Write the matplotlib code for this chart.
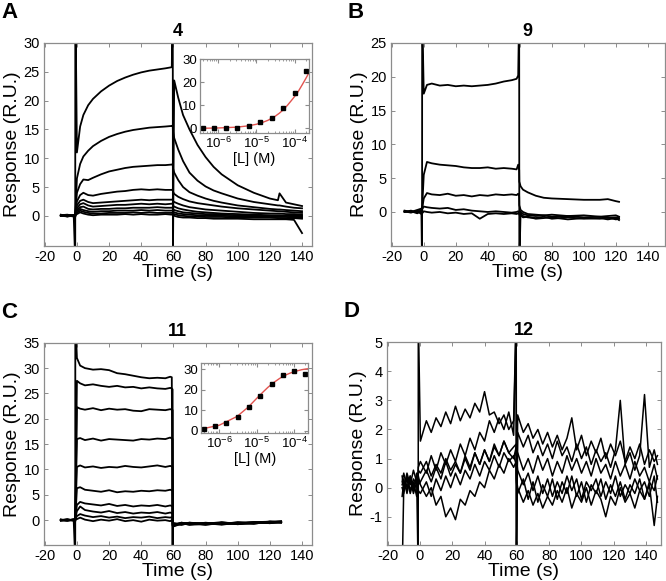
import matplotlib
matplotlib.use("Agg")
import matplotlib.pyplot as plt

plt.rcParams['font.family'] = ['Liberation Sans', 'DejaVu Sans']
plt.rcParams['mathtext.fontset'] = 'custom'
plt.rcParams['mathtext.rm'] = 'Liberation Sans'
plt.rcParams['axes.unicode_minus'] = False

# ---- panel A : compound 4 (10 concentrations); injection spikes kept in a1 only ----
tA = [-10, -6, -2, -1.05, -1, 0, 2, 4, 7, 10, 15, 20, 25, 30, 35, 40, 45, 50, 55, 59,
      59.6, 59.7, 60.5, 63, 66, 70, 75, 80, 85, 90, 100, 110, 120, 125, 126, 130, 135, 140]
a1 = [0.2, -0.1, 0.1, -8, 40, 11, 15.5, 17.5, 19.2, 20.3, 21.6, 22.6, 23.4, 24.0, 24.5, 24.9, 25.2, 25.4, 25.6, 25.8,
      40, -8, 23.5, 20.5, 17.5, 15.0, 12.3, 10.2, 8.5, 7.2, 5.3, 4.0, 3.0, 2.7, 3.9, 2.3, 2.0, 1.7]
a2 = [0.1, 0.2, 0, 0.1, 0.3, 6.5, 9.0, 10.3, 11.3, 12.1, 13.0, 13.7, 14.2, 14.6, 14.9, 15.1, 15.3, 15.4, 15.5, 15.6,
      15.7, 14.8, 13.5, 11.5, 9.5, 7.5, 6.1, 5.1, 4.4, 3.9, 3.0, 2.4, 2.0, 1.8, 1.8, 1.6, 1.4, 1.3]
a3 = [0, 0.1, -0.1, 0.0, 0.4, 4.0, 5.5, 6.3, 6.2, 6.6, 7.2, 7.7, 8.0, 8.3, 8.5, 8.6, 8.7, 8.8, 8.8, 8.9,
      9.0, 8.3, 7.5, 6.2, 5.0, 4.1, 3.5, 3.0, 2.6, 2.3, 1.8, 1.5, 1.2, 1.1, 1.1, 1.0, 0.9, 0.8]
a4 = [0.1, 0, 0.1, 0.2, 0.5, 2.5, 3.6, 4.0, 3.6, 3.5, 3.8, 4.0, 4.2, 4.3, 4.5, 4.6, 4.5, 4.6, 4.5, 4.5,
      4.6, 4.2, 3.8, 3.3, 2.9, 2.5, 2.2, 2.0, 1.8, 1.6, 1.3, 1.1, 0.9, 0.8, 0.8, 0.7, 0.6, 0.5]
a5 = [0, 0.1, 0, -0.2, 0.3, 1.8, 2.6, 2.8, 2.4, 2.2, 2.3, 2.4, 2.5, 2.6, 2.7, 2.8, 2.7, 2.8, 2.8, 2.8,
      2.9, 2.6, 2.4, 2.1, 1.8, 1.5, 1.3, 1.1, 1.0, 0.9, 0.7, 0.5, 0.4, 0.4, 0.4, 0.3, 0.3, 0.2]
a6 = [0.1, -0.1, 0.1, 0.0, 0.2, 1.3, 2.0, 2.2, 1.8, 1.6, 1.7, 1.8, 1.9, 1.9, 2.0, 2.1, 2.0, 2.1, 2.0, 2.1,
      2.2, 1.8, 1.6, 1.3, 1.1, 0.9, 0.7, 0.6, 0.5, 0.4, 0.3, 0.2, 0.1, 0.1, 0.1, 0.0, 0.1, 0.0]
a7 = [0, 0, 0.1, -0.1, 0.2, 1.0, 1.5, 1.6, 1.2, 1.1, 1.2, 1.2, 1.3, 1.3, 1.4, 1.4, 1.4, 1.5, 1.4, 1.4,
      1.5, 1.2, 1.0, 0.8, 0.6, 0.5, 0.4, 0.3, 0.3, 0.2, 0.1, 0.0, 0.0, -0.1, -0.1, 0.0, -0.1, -0.2]
a8 = [0.1, 0, -0.1, 0.1, 0.3, 0.8, 1.2, 1.0, 0.8, 0.7, 0.8, 0.8, 0.9, 0.9, 0.9, 1.0, 0.9, 1.0, 0.9, 0.9,
      1.0, 0.8, 0.6, 0.4, 0.3, 0.2, 0.1, 0.1, 0.0, 0.0, -0.1, -0.1, -0.2, -0.2, -0.2, -0.2, -0.3, -0.3]
a9 = [0, 0.1, 0, -0.2, 0.2, 0.5, 0.9, 0.7, 0.5, 0.4, 0.4, 0.5, 0.5, 0.5, 0.6, 0.5, 0.6, 0.5, 0.5, 0.5,
      0.6, 0.4, 0.3, 0.1, 0.0, -0.1, -0.1, -0.2, -0.2, -0.2, -0.3, -0.3, -0.3, -0.4, -0.4, -0.4, -0.4, -0.5]
a10 = [0, -0.1, 0, 0.1, 0.1, 0.3, 0.6, 0.4, 0.2, 0.1, 0.2, 0.2, 0.2, 0.3, 0.2, 0.3, 0.2, 0.2, 0.3, 0.2,
       0.3, 0.1, 0.0, -0.2, -0.3, -0.3, -0.4, -0.4, -0.5, -0.5, -0.5, -0.6, -0.6, -0.6, -0.6, -0.6, -0.7, -3.0]

# ---- panel B : compound 9 ----
tB = [-12, -8, -4, -1.5, -1.05, -1, 0, 2, 5, 10, 15, 20, 25, 30, 35, 40, 45, 50, 55, 58,
      59, 59.6, 59.7, 60.5, 62, 65, 70, 75, 80, 90, 100, 110, 115, 120, 122]
b1 = [0.2, 0, 0.3, 0.5, -8, 30, 17.5, 18.8, 19.0, 18.7, 18.8, 18.6, 18.7, 18.6, 18.7, 18.8, 19.0, 19.3, 19.5, 19.7,
      20.2, 30, -8, 0.0, -0.3, -0.5, -0.6, -0.5, -0.7, -0.6, -0.8, -0.7, -0.9, -0.8, -0.9]
b2 = [0, 0.2, -0.1, 0.3, 0.1, 0.6, 5.5, 7.4, 7.2, 7.0, 6.9, 6.8, 6.6, 6.5, 6.5, 6.6, 6.4, 6.5, 6.4, 6.3,
      7.0, 6.2, 4.5, 3.8, 3.3, 2.9, 2.4, 2.1, 2.0, 1.9, 1.8, 1.8, 1.9, 1.6, 1.5]
b3 = [0.1, -0.1, 0.2, 0, -0.4, 0.5, 2.0, 2.8, 2.6, 2.5, 2.7, 2.4, 2.5, 2.3, 2.5, 2.4, 2.6, 2.5, 2.6, 2.5,
      2.7, 2.3, 1.0, 0.3, 0.0, -0.3, -0.4, -0.5, -0.4, -0.6, -0.5, -0.7, -0.6, -0.5, -0.7]
b4 = [0, 0.1, -0.2, 0.2, -0.6, 0.4, 0.8, 0.7, 0.6, 0.5, 0.6, 0.3, 0.4, 0.2, 0.1, 0.0, 0.1, 0.0, -0.1, 0.0,
      0.1, -0.1, -0.2, -0.3, -0.6, -0.8, -0.9, -0.7, -1.0, -0.8, -1.0, -0.9, -1.1, -0.9, -1.2]
b5 = [0.1, 0, 0.1, -0.3, 0.3, -0.2, 0.1, 0.0, -0.1, 0.0, -0.2, -0.1, -0.3, -0.2, -1.0, -0.3, -0.2, -0.3, -0.2, -0.3,
      -0.2, 0.0, -0.4, -0.5, -0.8, -0.7, -1.0, -0.9, -0.8, -1.1, -0.9, -1.0, -0.8, -1.1, -1.0]

# ---- panel C : compound 11 ----
tC = [-10, -6, -2, -1.05, -1, 0, 2, 5, 10, 15, 20, 25, 30, 35, 40, 45, 50, 55, 58, 59,
      59.5, 59.6, 60.5, 65, 70, 80, 90, 100, 110, 120, 127]
c1 = [0, 0.2, -0.1, -8, 40, 32, 30.5, 30.0, 29.7, 29.8, 29.6, 29.0, 28.8, 28.5, 28.2, 28.0, 28.1, 28.0, 28.3, 28.2,
      -8, -1.0, -0.8, -0.6, -0.9, -0.8, -0.5, -0.6, -0.4, -0.3, -0.2]
c2 = [0.1, -0.1, 0.2, 0.1, 0.4, 27.5, 27.0, 26.6, 26.8, 26.5, 26.3, 26.5, 26.2, 26.3, 26.0, 26.2, 26.0, 25.9, 26.1, 26.0,
      25.8, -1.2, -0.9, -0.7, -0.6, -0.9, -0.6, -0.8, -0.5, -0.4, -0.3]
c3 = [-0.1, 0.1, 0, -0.2, 0.3, 22.3, 22.0, 21.8, 22.1, 21.7, 22.0, 21.8, 21.9, 21.6, 21.5, 21.9, 21.8, 21.7, 21.9, 21.8,
      21.7, -0.9, -1.0, -0.5, -0.8, -0.6, -0.9, -0.5, -0.7, -0.3, -0.5]
c4 = [0, 0, 0.1, 0.0, 0.4, 16.0, 16.2, 15.8, 16.1, 15.7, 16.0, 15.9, 15.8, 15.7, 16.0, 15.9, 16.1, 16.0, 16.3, 16.1,
      16.0, -1.1, -0.7, -0.9, -0.6, -0.7, -0.4, -0.8, -0.6, -0.5, -0.4]
c5 = [0.1, -0.1, 0, 0.2, 0.3, 10.5, 10.8, 10.4, 10.6, 10.3, 10.5, 10.4, 10.7, 10.5, 10.4, 10.6, 10.8, 10.5, 10.7, 10.6,
      10.5, -0.8, -1.1, -0.6, -0.9, -0.5, -0.8, -0.7, -0.4, -0.6, -0.3]
c6 = [0, 0.1, -0.1, -0.1, 0.2, 6.3, 6.5, 6.0, 5.8, 5.6, 5.9, 5.5, 5.7, 5.6, 5.8, 5.7, 5.9, 5.8, 6.0, 5.9,
      5.8, -1.0, -0.6, -0.8, -0.5, -0.9, -0.5, -0.6, -0.7, -0.3, -0.4]
c7 = [0.1, 0, 0.1, 0.1, 0.5, 3.0, 3.6, 3.3, 3.1, 2.9, 3.2, 2.8, 3.0, 2.7, 2.9, 2.8, 3.0, 2.7, 2.9, 2.8,
      2.7, -0.9, -1.2, -0.7, -0.8, -0.6, -0.7, -0.5, -0.6, -0.4, -0.3]
c8 = [0, 0.1, 0, -0.2, 0.3, 1.8, 2.7, 2.0, 1.7, 1.5, 1.8, 1.4, 1.6, 1.3, 1.5, 1.4, 1.6, 1.3, 1.5, 1.4,
      1.3, -1.1, -0.8, -0.9, -0.6, -0.8, -0.5, -0.7, -0.4, -0.6, -0.4]
c9 = [-0.1, 0, 0.1, 0.0, 0.2, 0.8, 1.2, 0.9, 0.6, 0.8, 0.5, 0.7, 0.4, 0.6, 0.5, 0.7, 0.4, 0.6, 0.5, 0.6,
      0.5, -0.8, -0.9, -0.5, -0.7, -0.6, -0.8, -0.4, -0.5, -0.3, -0.4]
c10 = [0, -0.1, 0.1, 0.2, 0.1, 0.2, 0.5, 0.1, -0.2, 0.1, -0.1, 0.2, -0.2, 0.0, -0.3, 0.1, -0.1, 0.0, -0.2, 0.0,
       -0.1, -1.0, -0.7, -0.8, -0.5, -0.7, -0.6, -0.5, -0.6, -0.4, -0.5]

# ---- panel D : compound 12 ----
tD = [-11, -10, -8, -6, -4, -2, -1.05, -1,
      0.3, 4, 7, 10, 13, 16, 19, 22, 25, 28, 31, 34, 37, 40, 43, 46, 49, 52, 55, 58,
      59.6, 59.7,
      60.5, 64, 67, 70, 73, 76, 79, 82, 85, 88, 91, 94, 97, 100, 103, 106, 109, 112, 115, 118,
      121, 124, 127, 130, 133, 136, 139, 142, 145, 147]
d1 = [0.1, 0.3, -0.2, 0.4, 0.0, 0.3, -3, 6,
      1.6, 2.3, 1.9, 2.4, 2.1, 2.6, 2.2, 2.8, 2.3, 2.7, 2.4, 2.9, 2.6, 3.3, 2.5, 2.6, 2.2, 2.5, 2.0, 2.3,
      6, -3,
      2.5, 1.9, 2.2, 1.7, 2.0, 1.5, 1.9, 1.4, 1.8, 1.3, 1.7, 2.4, 1.3, 1.8, 1.1, 1.6, 1.2, 1.7, 1.0, 1.5,
      1.1, 1.6, 0.9, 1.4, 1.0, 1.5, 0.8, 1.3, 0.9, 1.1]
d2 = [0.0, -0.2, 0.4, -0.1, 0.3, 0.1, 0.5, 0.7,
      0.9, 0.5, 1.1, 0.6, 1.2, 0.8, 1.3, 0.9, 1.5, 1.1, 1.7, 1.3, 1.9, 1.6, 2.3, 1.9, 2.4, 2.0, 2.6, 1.8,
      6, -3,
      1.9, 1.4, 1.8, 1.2, 1.6, 1.1, 1.5, 1.0, 1.6, 1.1, 1.4, 0.9, 1.5, 1.0, 1.4, 0.8, 1.3, 0.9, 1.2, 0.7,
      1.3, 3.0, 0.8, 1.2, 0.6, 1.1, 3.2, 0.7, 1.3, 0.8]
d3 = [-0.3, 0.2, -0.1, 0.3, -0.2, 0.2, -0.4, 0.1,
      0.2, 0.6, 0.2, 0.7, 0.3, 0.9, 0.4, 0.8, 0.5, 1.0, 0.6, 1.2, 0.8, 1.3, 0.9, 1.4, 1.1, 1.6, 1.2, 1.4,
      1.5, 1.0,
      0.6, 0.1, 0.5, -0.1, 0.4, -0.2, 0.3, -0.3, 0.2, -0.2, 0.4, -0.1, 0.3, -0.4, 0.2, -0.1, 0.3, -0.3, 0.2, -0.2,
      0.4, -0.3, 0.1, -0.2, 0.3, -0.1, 0.2, -0.3, 0.4, -0.5]
d4 = [0.4, 0.0, 0.5, 0.1, 0.6, 0.2, 0.0, 0.4,
      0.1, -0.3, 0.0, -0.6, -0.3, -1.0, -0.7, -1.1, -0.4, -0.6, -0.1, -0.3, 0.2, 0.0, 0.6, 0.3, 0.8, 0.5, 1.0, 0.7,
      0.9, 0.3,
      0.0, -0.5, -0.1, -0.6, -0.2, -0.7, -0.3, -0.6, -0.1, -0.5, 0.0, -0.7, -0.2, -0.5, 0.0, -0.6, -0.1, -0.4, -1.0, -0.3,
      -0.6, 0.0, -0.5, -0.2, -0.7, -0.1, -0.4, 0.1, -1.3, -0.3]
d5 = [0.2, 0.5, 0.0, 0.4, -0.1, 0.5, 0.1, 0.6,
      0.5, 0.9, 0.4, 0.8, 0.5, 1.0, 0.6, 0.9, 0.5, 1.1, 0.7, 1.2, 0.8, 1.3, 0.9, 1.5, 1.1, 1.6, 1.2, 1.0,
      1.4, 1.1,
      1.2, 0.6, 1.0, 0.5, 1.1, 0.6, 1.0, 0.4, 0.9, 0.5, 1.1, 0.6, 1.0, 0.5, 0.9, 0.4, 1.0, 0.5, 0.8, 0.3,
      0.9, 0.4, 0.8, 0.3, 0.9, 0.4, 0.7, 0.2, 0.8, 0.3]
d6 = [-3, 0.0, 0.3, -0.2, 0.2, -0.3, 0.2, -0.1,
      -0.2, 0.2, -0.3, 0.3, -0.1, 0.4, 0.0, 0.5, 0.1, 0.6, 0.3, 0.8, 0.4, 0.9, 0.6, 1.1, 0.7, 1.2, 0.9, 1.1,
      0.8, 0.2,
      -0.2, 0.3, -0.4, 0.2, -0.5, 0.1, -0.3, 0.3, -0.4, 0.2, -0.2, 0.4, -0.3, 0.2, -0.5, 0.1, -0.2, 0.3, -0.4, 0.1,
      -0.3, 0.2, -0.4, 0.1, -0.2, 0.3, -0.4, 0.2, -0.1, 0.4]

# ---- insets: steady-state response vs ligand concentration ----
conc = [3.9e-7, 7.8e-7, 1.56e-6, 3.13e-6, 6.25e-6, 1.25e-5, 2.5e-5, 5e-5, 1e-4, 2e-4]
resp4 = [0.3, 0.0, 0.1, 0.3, 1.1, 2.6, 4.5, 8.7, 15.2, 25.1]
resp11 = [1.0, 2.2, 3.7, 6.8, 11.5, 17.0, 22.7, 27.0, 29.2, 27.8]
fit_conc = [3.4e-7, 1e-6, 3e-6, 6e-6, 1e-5, 1.5e-5, 2e-5, 3e-5, 4e-5, 5e-5, 6.5e-5, 8e-5,
            1e-4, 1.25e-4, 1.6e-4, 2e-4, 2.4e-4]
fit4 = [0.06, 0.2, 0.55, 1.1, 1.8, 2.7, 3.5, 5.1, 6.6, 8.0, 10.0, 11.8, 13.8, 16.0, 19.0, 21.8, 24.2]
fit11 = [0.9, 2.7, 7.0, 11.6, 15.8, 19.0, 21.2, 23.8, 25.4, 26.5, 27.5, 28.2, 28.8, 29.3, 29.8, 30.1, 30.3]

SPINE = '#8c8c8c'


def style(ax, xlim, ylim, yticks, title, letter):
    ax.set_xlim(*xlim)
    ax.set_ylim(*ylim)
    ax.set_xticks(range(-20, 141, 20))
    ax.set_yticks(yticks)
    ax.tick_params(direction='in', length=3, width=0.7, color=SPINE, labelsize=10.5,
                   top=True, right=True, pad=3)
    for s in ax.spines.values():
        s.set_color(SPINE)
        s.set_linewidth(0.9)
    ax.set_xlabel('Time (s)', fontsize=14, labelpad=0)
    ax.set_ylabel('Response (R.U.)', fontsize=14, labelpad=2)
    ax.set_title(title, fontsize=13, fontweight='bold', pad=5)
    ax.text(-0.16, 1.15, letter, transform=ax.transAxes, fontsize=16, fontweight='bold',
            ha='left', va='center')


def inset(ax, resp, fit, ylim, yticks):
    ax.set_xscale('log')
    ax.plot(fit_conc, fit, color='#e2534f', lw=1.0)
    ax.plot(conc, resp, 's', color='black', ms=3.5)
    ax.set_xlim(3.3e-7, 2.4e-4)
    ax.set_ylim(*ylim)
    ax.set_yticks(yticks)
    ax.set_xticks([1e-6, 1e-5, 1e-4])
    ax.tick_params(which='both', direction='in', top=True, right=True, color=SPINE,
                   labelsize=9.5, pad=2)
    ax.tick_params(which='major', length=3)
    ax.tick_params(which='minor', length=1.5)
    for s in ax.spines.values():
        s.set_color(SPINE)
        s.set_linewidth(0.9)
    ax.set_xlabel('[L] (M)', fontsize=10.5, labelpad=1)


fig = plt.figure(figsize=(6.66, 5.81), dpi=100)

axA = fig.add_axes([0.066, 0.577, 0.402, 0.349])
for y in [a10, a9, a8, a7, a6, a5, a4, a3, a2, a1]:
    axA.plot(tA, y, color='black', lw=1.3)
style(axA, (-20.5, 146), (-5.2, 30), range(0, 31, 5), '4', 'A')

axB = fig.add_axes([0.587, 0.577, 0.411, 0.349])
for y in [b5, b4, b3, b2, b1]:
    axB.plot(tB, y, color='black', lw=1.3)
style(axB, (-20.5, 150.5), (-5, 25), range(0, 26, 5), '9', 'B')

axC = fig.add_axes([0.066, 0.062, 0.402, 0.348])
for y in [c10, c9, c8, c7, c6, c5, c4, c3, c2, c1]:
    axC.plot(tC, y, color='black', lw=1.3)
style(axC, (-20.5, 146), (-4.9, 35), range(0, 36, 5), '11', 'C')

axD = fig.add_axes([0.581, 0.062, 0.411, 0.349])
for y in [d6, d5, d4, d3, d2, d1]:
    axD.plot(tD, y, color='black', lw=1.1)
style(axD, (-20.4, 149), (-1.97, 5), range(-1, 6), '12', 'D')

insA = fig.add_axes([0.300, 0.771, 0.164, 0.127])
inset(insA, resp4, fit4, (-2, 30), [0, 10, 20, 30])

insC = fig.add_axes([0.302, 0.255, 0.161, 0.120])
inset(insC, resp11, fit11, (-1, 33), [0, 10, 20, 30])

fig.savefig('out.png', dpi=100)
